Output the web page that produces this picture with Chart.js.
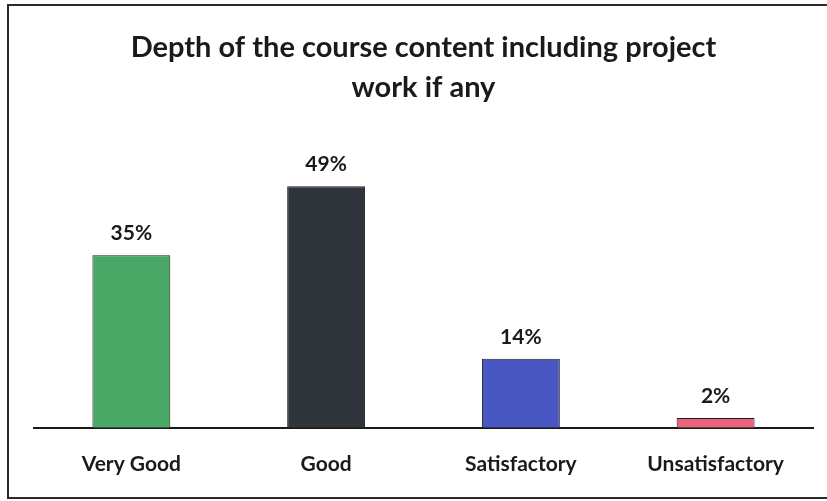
<!DOCTYPE html>
<html>
<head>
<meta charset="utf-8">
<script src="https://cdn.jsdelivr.net/npm/chart.js@4.4.0/dist/chart.umd.min.js"></script>
<style>
  html, body { margin: 0; padding: 0; background: #fff; }
  #wrap { width: 827px; height: 501px; position: relative; }
</style>
</head>
<body>
<div id="wrap"><canvas id="barChart" width="827" height="501"></canvas></div>
<script>
// Dữ liệu biểu đồ
const categories = ['Very Good', 'Good', 'Satisfactory', 'Unsatisfactory'];
const percentValues = [35, 49, 14, 2];
const barColors = ['#49a865', '#30353b', '#4857c2', '#e8647c'];
const chartTitle = ['Depth of the course content including project', 'work if any'];

// Vẽ khung viền quanh biểu đồ
const frameBorder = {
    id: 'frameBorder',
    beforeDraw(chart) {
        const ctx = chart.ctx;
        ctx.save();
        ctx.strokeStyle = '#2a2a2a';
        ctx.lineWidth = 2;
        ctx.beginPath();
        ctx.moveTo(827, 5);
        ctx.lineTo(8, 5);
        ctx.lineTo(8, 498);
        ctx.lineTo(827, 498);
        ctx.stroke();
        ctx.restore();
    }
};

// Nhãn phần trăm trên mỗi cột
const valueLabels = {
    id: 'valueLabels',
    afterDatasetsDraw(chart) {
        const ctx = chart.ctx;
        const meta = chart.getDatasetMeta(0);
        ctx.save();
        ctx.font = 'bold 21px Lato';
        ctx.fillStyle = '#1a1a1a';
        ctx.textAlign = 'center';
        ctx.textBaseline = 'middle';
        meta.data.forEach(function (bar, i) {
            ctx.fillText(percentValues[i] + '%', bar.x, bar.y - 22);
        });
        ctx.restore();
    }
};

new Chart(document.getElementById('barChart').getContext('2d'), {
    type: 'bar',
    data: {
        labels: categories,
        datasets: [{
            data: percentValues,
            backgroundColor: barColors,
            borderColor: '#1f1f1f',
            borderWidth: 1,
            barPercentage: 0.4,
            categoryPercentage: 1
        }]
    },
    options: {
        responsive: false,
        animation: false,
        layout: {
            padding: { top: 4, left: 34, right: 14, bottom: 0 }
        },
        plugins: {
            legend: { display: false },
            tooltip: { enabled: false },
            title: {
                display: true,
                text: chartTitle,
                color: '#1a1a1a',
                font: { family: 'Lato', size: 29, weight: 'bold', lineHeight: 1.4 },
                padding: { top: 23, bottom: 73 }
            }
        },
        scales: {
            x: {
                grid: { display: false, drawTicks: false },
                border: { display: true, color: '#1a1a1a', width: 2 },
                ticks: {
                    color: '#1a1a1a',
                    padding: 24,
                    font: { family: 'Lato', size: 21, weight: 'bold' }
                }
            },
            y: {
                display: false,
                min: 0,
                max: 50
            }
        }
    },
    plugins: [frameBorder, valueLabels]
});
</script>
</body>
</html>
